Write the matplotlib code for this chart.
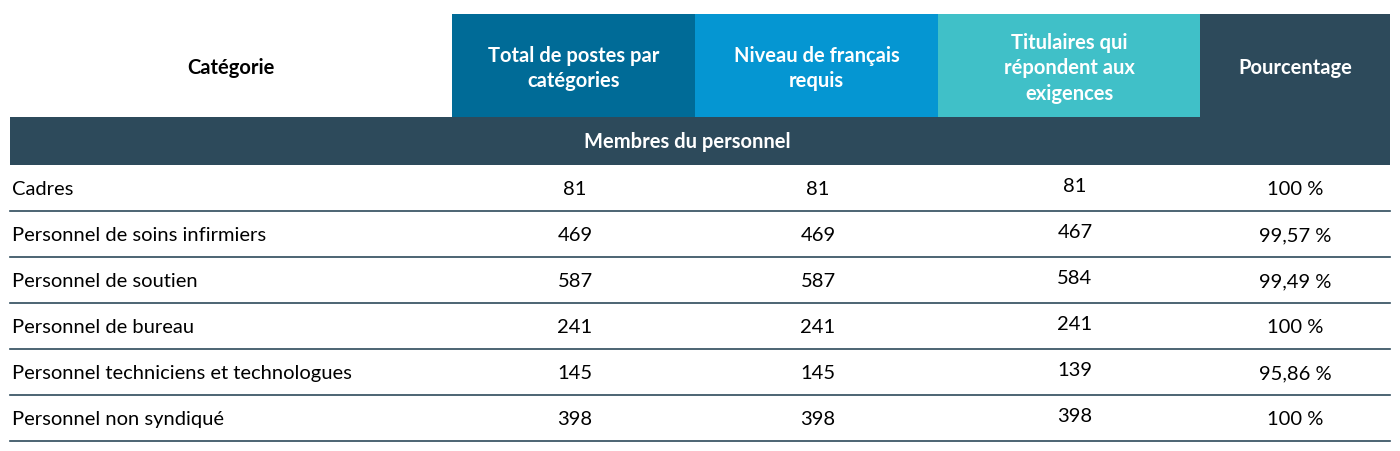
import matplotlib.pyplot as plt
from matplotlib.patches import Rectangle

categories = ["Cadres", "Personnel de soins infirmiers", "Personnel de soutien",
              "Personnel de bureau", "Personnel techniciens et technologues",
              "Personnel non syndiqué"]
total_postes = [81, 469, 587, 241, 145, 398]
niveau_requis = [81, 469, 587, 241, 145, 398]
titulaires = [81, 467, 584, 241, 139, 398]
pourcentage = ["100 %", "99,57 %", "99,49 %", "100 %", "95,86 %", "100 %"]
headers = ["Catégorie", "Total de postes par\ncatégories", "Niveau de français\nrequis",
           "Titulaires qui\nrépondent aux\nexigences", "Pourcentage"]
section = "Membres du personnel"

plt.rcParams['font.family'] = ['Lato', 'DejaVu Sans']

fig = plt.figure(figsize=(14, 4.52), dpi=100)
ax = fig.add_axes([0, 0, 1, 1])
ax.set_xlim(0, 1400)
ax.set_ylim(452, 0)
ax.axis("off")

dark = "#2d4a5b"
col_edges = [10, 452, 695, 938, 1200, 1390]
head_colors = ["white", "#006b97", "#0596d2", "#40c0c8", dark]
head_top, head_bot = 15, 118

for i, h in enumerate(headers):
    x0, x1 = col_edges[i], col_edges[i + 1]
    ax.add_patch(Rectangle((x0, head_top), x1 - x0, head_bot - head_top,
                           color=head_colors[i], lw=0))
    ax.text((x0 + x1) / 2, (head_top + head_bot) / 2 + 2, h,
            color="black" if i == 0 else "white", fontsize=14.5,
            fontweight="bold", ha="center", va="center", linespacing=1.35)

ax.add_patch(Rectangle((10, head_bot), 1380, 48, color=dark, lw=0))
ax.text(687, head_bot + 24, section, color="white", fontsize=14.5,
        fontweight="bold", ha="center", va="center")

row_h = 46
centers = [575, 818, 1075, 1295]
for r, cat in enumerate(categories):
    top = 166 + r * row_h
    y = top + row_h / 2 + 1
    ax.text(12, y, cat, fontsize=14.5, ha="left", va="center")
    vals = [total_postes[r], niveau_requis[r], titulaires[r], pourcentage[r]]
    for c, v in zip(centers, vals):
        yy = y - 3 if c == 1075 else y
        ax.text(c, yy, str(v), fontsize=14.5, ha="center", va="center")
    ax.plot([10, 1390], [top + row_h, top + row_h], color=dark, lw=1.2)

fig.savefig("out.png", dpi=100)
